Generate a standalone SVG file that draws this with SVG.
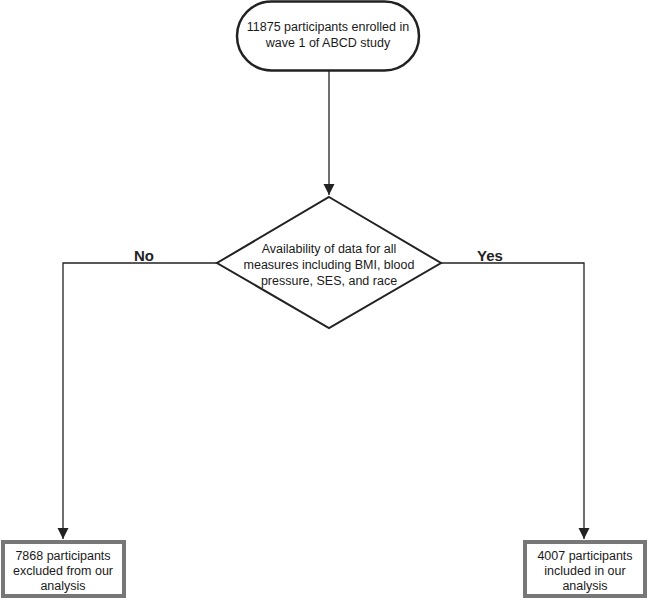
<svg xmlns="http://www.w3.org/2000/svg" width="650" height="601" viewBox="0 0 650 601">
<style>
text{font-family:"Liberation Sans",Arial,sans-serif;font-size:12.5px;fill:#1a1a1a;text-anchor:middle}
.lbl{font-size:15px;font-weight:bold;fill:#222}
.conn{fill:none;stroke:#222;stroke-width:1.3}
.term{fill:#fff;stroke:#222;stroke-width:2.5}
.dec{fill:#fff;stroke:#222;stroke-width:2}
.box{fill:#fff;stroke:#777;stroke-width:4}
</style>
<defs>
<marker id="arr" markerWidth="12" markerHeight="12" refX="11" refY="6" orient="auto" markerUnits="userSpaceOnUse">
<path d="M0,0.5 L11,6 L0,11.5 Z" fill="#222"/>
</marker>
</defs>
<rect width="650" height="601" fill="#fff"/>
<g id="connectors">
<path class="conn" d="M329,71 L329,195" marker-end="url(#arr)"/>
<path class="conn" d="M217,263 L63,263 L63,539" marker-end="url(#arr)"/>
<path class="conn" d="M441,263 L584,263 L584,539" marker-end="url(#arr)"/>
<text class="lbl" x="144" y="261">No</text>
<text class="lbl" x="490" y="261">Yes</text>
</g>
<g id="start">
<rect class="term" x="237" y="1.5" width="182" height="69" rx="34.5"/>
<text x="328" y="31">11875 participants enrolled in</text>
<text x="328" y="47">wave 1 of ABCD study</text>
</g>
<g id="decision">
<polygon class="dec" points="329,197 441,263 329,328 217,263"/>
<text x="329" y="253">Availability of data for all</text>
<text x="329" y="269">measures including BMI, blood</text>
<text x="329" y="285">pressure, SES, and race</text>
</g>
<g id="excluded">
<rect class="box" x="3" y="542" width="121" height="54"/>
<text x="63" y="560">7868 participants</text>
<text x="63" y="575">excluded from our</text>
<text x="63" y="590">analysis</text>
</g>
<g id="included">
<rect class="box" x="525" y="542" width="120" height="54"/>
<text x="585" y="560">4007 participants</text>
<text x="585" y="575">included in our</text>
<text x="585" y="590">analysis</text>
</g>
</svg>
